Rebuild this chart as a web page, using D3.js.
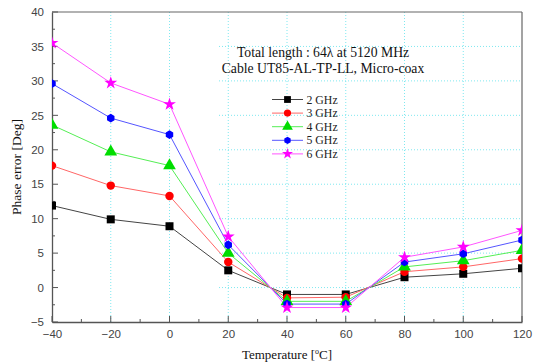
<!DOCTYPE html>
<html><head><meta charset="utf-8">
<script src="https://cdn.jsdelivr.net/npm/d3@7"></script>
<style>body{margin:0;background:#fff}svg{display:block}</style>
</head><body>
<svg id="c" width="533" height="364"></svg>
<script>
const temps = [-40, -20, 0, 20, 40, 60, 80, 100, 120];
const seriesNames = ["2 GHz", "3 GHz", "4 GHz", "5 GHz", "6 GHz"];
const s2 = [11.9, 9.9, 8.9, 2.5, -1.0, -1.0, 1.5, 2.0, 2.8];
const s3 = [17.7, 14.8, 13.3, 3.7, -1.5, -1.4, 2.3, 3.0, 4.2];
const s4 = [23.6, 19.7, 17.7, 5.0, -2.0, -2.0, 3.0, 3.9, 5.4];
const s5 = [29.6, 24.6, 22.2, 6.2, -2.4, -2.4, 3.7, 4.9, 6.9];
const s6 = [35.5, 29.7, 26.6, 7.4, -2.9, -2.9, 4.4, 5.9, 8.3];
const xTicks = [-40, -20, 0, 20, 40, 60, 80, 100, 120];
const yTicks = [-5, 0, 5, 10, 15, 20, 25, 30, 35, 40];
const titleLines = ["Total length : 64\u03bb at 5120 MHz", "Cable UT85-AL-TP-LL, Micro-coax"];

const values = [s2, s3, s4, s5, s6];
const lineColors = ["#444444", "#ff6666", "#55ee55", "#5555ff", "#ff55ff"];
const markColors = ["#000000", "#ff0000", "#00dd00", "#0000ff", "#ff00ff"];
const symbols = [d3.symbolSquare, d3.symbolCircle, d3.symbolTriangle, "hex", d3.symbolStar];
const sizes = [64, 56, 70, 56, 52];

const svg = d3.select("#c");
const L = 52, R = 522, T = 12, B = 322;
const x = d3.scaleLinear().domain([-40, 120]).range([L, R]);
const y = d3.scaleLinear().domain([-5, 40]).range([B, T]);

// grid
const g = svg.append("g");
g.selectAll(".vg").data(xTicks.slice(1, -1)).join("line")
  .attr("x1", d => x(d)).attr("x2", d => x(d)).attr("y1", T).attr("y2", B)
  .attr("stroke", "#7fe8f0").attr("stroke-width", 1).attr("stroke-dasharray", "1,2");
g.selectAll(".hg").data(yTicks.slice(1, -1)).join("line")
  .attr("x1", 219).attr("x2", R).attr("y1", d => y(d)).attr("y2", d => y(d))
  .attr("stroke", "#7fe8f0").attr("stroke-width", 1).attr("stroke-dasharray", "1,2");

// frame top/right
svg.append("line").attr("x1", L).attr("x2", R).attr("y1", T).attr("y2", T).attr("stroke", "#666").attr("stroke-width", 1.2);
svg.append("line").attr("x1", R).attr("x2", R).attr("y1", T).attr("y2", B).attr("stroke", "#666").attr("stroke-width", 1.2);

// axes
const xAxis = d3.axisBottom(x).tickValues(xTicks).tickSize(0).tickPadding(8);
const xa = svg.append("g").attr("transform", `translate(0,${B})`).call(xAxis);
const yAxis = d3.axisLeft(y).tickValues(yTicks).tickSize(0).tickPadding(8);
const ya = svg.append("g").attr("transform", `translate(${L},0)`).call(yAxis);
[xa, ya].forEach(a => {
  a.select(".domain").attr("stroke", "#555").attr("stroke-width", 1.3);
  a.selectAll("text").attr("font-family", "Liberation Sans, Arial, sans-serif").attr("font-size", 11.5).attr("fill", "#444");
});
// inward ticks
const xMinor = d3.range(-40, 121, 10);
svg.selectAll(".xt").data(xMinor).join("line")
  .attr("x1", d => x(d)).attr("x2", d => x(d)).attr("y1", B)
  .attr("y2", d => B - (d % 20 === 0 ? 6 : 3)).attr("stroke", "#555");
const yMinor = d3.range(-5, 40.1, 2.5);
svg.selectAll(".yt").data(yMinor).join("line")
  .attr("y1", d => y(d)).attr("y2", d => y(d)).attr("x1", L)
  .attr("x2", d => L + (d % 5 === 0 ? 6 : 3)).attr("stroke", "#555");

// clip
svg.append("clipPath").attr("id", "clip").append("rect")
  .attr("x", L).attr("y", T).attr("width", R - L).attr("height", B - T);

function hexPath(r) {
  const pts = d3.range(6).map(i => { const a = Math.PI / 6 + i * Math.PI / 3; return [r * Math.cos(a), r * Math.sin(a)]; });
  return "M" + pts.map(p => p.join(",")).join("L") + "Z";
}
function symPath(i, scale) {
  if (symbols[i] === "hex") return hexPath(4.3 * (scale || 1));
  return d3.symbol().type(symbols[i]).size(sizes[i] * (scale || 1) * (scale || 1))();
}

const plot = svg.append("g").attr("clip-path", "url(#clip)");
const line = d3.line().x((d, i) => x(temps[i])).y(d => y(d));
values.forEach((vals, si) => {
  plot.append("path").datum(vals).attr("d", line).attr("fill", "none")
    .attr("stroke", lineColors[si]).attr("stroke-width", 1);
});
values.forEach((vals, si) => {
  plot.selectAll(".m" + si).data(vals).join("path")
    .attr("transform", (d, i) => `translate(${x(temps[i])},${y(d)})`)
    .attr("d", symPath(si)).attr("fill", markColors[si]);
});

// title text
svg.selectAll(".tt").data(titleLines).join("text")
  .attr("x", 323).attr("y", (d, i) => 57 + i * 16).attr("text-anchor", "middle")
  .attr("font-family", "Liberation Serif, Times New Roman, serif").attr("font-size", 13.7).attr("fill", "#111")
  .text(d => d);

// legend
const lg = svg.append("g");
seriesNames.forEach((n, i) => {
  const yy = 99.5 + i * 13.6;
  lg.append("line").attr("x1", 272).attr("x2", 303).attr("y1", yy).attr("y2", yy).attr("stroke", lineColors[i]).attr("stroke-width", 1);
  lg.append("path").attr("transform", `translate(287.5,${yy})`).attr("d", symPath(i, 0.85)).attr("fill", markColors[i]);
  lg.append("text").attr("x", 306.5).attr("y", yy + 4).attr("font-family", "Liberation Serif, Times New Roman, serif")
    .attr("font-size", 11.8).attr("fill", "#222").text(n);
});

// axis titles
svg.append("text").attr("transform", `translate(21,${(T + B) / 2}) rotate(-90)`).attr("text-anchor", "middle")
  .attr("font-family", "Liberation Serif, Times New Roman, serif").attr("font-size", 13.5).attr("fill", "#111")
  .text("Phase error [Deg]");
const xt = svg.append("text").attr("x", 287).attr("y", 359).attr("text-anchor", "middle")
  .attr("font-family", "Liberation Serif, Times New Roman, serif").attr("font-size", 13).attr("fill", "#111");
xt.append("tspan").text("Temperature [");
xt.append("tspan").attr("font-size", 8).attr("dy", -5).text("o");
xt.append("tspan").attr("dy", 5).text("C]");
</script>
</body></html>
